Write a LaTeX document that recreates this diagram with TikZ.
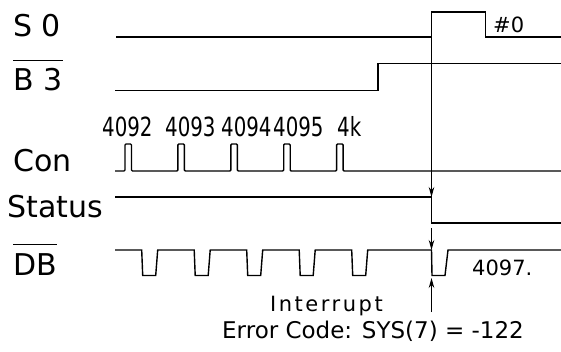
\documentclass[tikz,border=0pt]{standalone}
\usepackage{fontspec}
\usepackage{graphicx}
\setmainfont{DejaVu Sans}
\newfontfamily\narrowfont{DejaVu Sans Condensed}
\newcommand{\tallcount}[1]{\scalebox{1}[1.2]{#1}} % tall, narrow digits
\usetikzlibrary{positioning,arrows.meta}
\tikzset{
	x=1pt, y=-1pt, % pixel-like grid, y runs downwards
	signal/.style={line width=1.4pt, line join=miter}, % the waveforms
	sigarrow/.style={line width=1pt, -{Stealth[length=10pt,width=5.5pt]}}, % event arrows
	siglabel/.style={anchor=base west, inner sep=0pt, font=\fontsize{30}{36}\selectfont}, % signal names
	countlabel/.style={anchor=base west, inner sep=0pt, font=\narrowfont\fontsize{22}{26}\selectfont}, % counter values
	note/.style={anchor=base west, inner sep=0pt, font=\fontsize{21}{25}\selectfont}, % small texts
}

\begin{document}
\begin{tikzpicture}
	\useasboundingbox (0,0) rectangle (561,352);
	% signal names
	\node[siglabel] (s0) at (13,37) {S 0};
	\node[siglabel] (b3) at (13,91) {B 3};
	\node[siglabel] (con) at (13,172) {Con};
	\node[siglabel] (status) at (7,218) {Status};
	\node[siglabel] (db) at (13,275) {DB};
	\draw[signal,line width=1.1pt] ([yshift=8pt]b3.north west) -- ([yshift=8pt]b3.north east);
	\draw[signal,line width=1.1pt] ([yshift=8pt]db.north west) -- ([yshift=8pt]db.north east);
	
	% counter values above the Con pulses
	\node[countlabel] (c1) at (102,137) {\tallcount{4092}};
	\node[countlabel] (c2) at (165,137) {\tallcount{4093}};
	\node[countlabel] (c3) at (221,137) {\tallcount{4094}};
	\node[countlabel] (c4) at (273,137) {\tallcount{4095}};
	\node[countlabel] (c5) at (337,137) {\tallcount{4k}};
	
	% waveforms
	\draw[signal] (116,37) -- (431.5,37) coordinate (s0rise) -- (431.5,12) -- (485.5,12) -- (485.5,37) -- (561,37);
	\draw[signal] (115,90.5) -- (378,90.5) -- (378,63.5) -- (561,63.5);
	\draw[signal,rounded corners=1pt] (115,171)
		\foreach \x in {125,177.9,230.8,283.7,336.6} {
			-- (\x,171) -- (\x,144) -- ({\x+6.5},144) -- ({\x+6.5},171)
		} -- (561,171);
	\draw[signal] (115,197) -- (431.5,197) coordinate (sthigh) -- (431.5,223) -- (561,223);
	\draw[signal] (115,250)
		\foreach \x in {141.7,194.2,246.7,299.2,351.7} {
			-- (\x,250) -- ({\x+1},275.5) -- ({\x+14},275.5) -- ({\x+16},250)
		} -- (431.5,250) coordinate (dbhigh) -- (432,275.5) -- (445,275.5) -- (448,250) -- (561,250);
	
	% events
	\coordinate (stlow) at (431.5,228);
	\coordinate (dblow) at (431.5,278);
	\coordinate (irq) at (431.5,312);
	\draw[sigarrow] (s0rise) -- (sthigh);
	\draw[sigarrow] (stlow) -- (dbhigh);
	\draw[sigarrow] (irq) -- (dblow);
	
	% notes
	\node[note] (zero) at (493,33) {\#0};
	\node[note] (count) at (472,275) {4097.};
	\node[note,font=\fontsize{21}{25}\selectfont\addfontfeature{LetterSpace=12}] (interrupt) at (270,311) {Interrupt};
	\node[note,font=\fontsize{23}{27}\selectfont] (errcode) at (222,338) {Error Code: SYS(7) = -122};
\end{tikzpicture}
\end{document}
